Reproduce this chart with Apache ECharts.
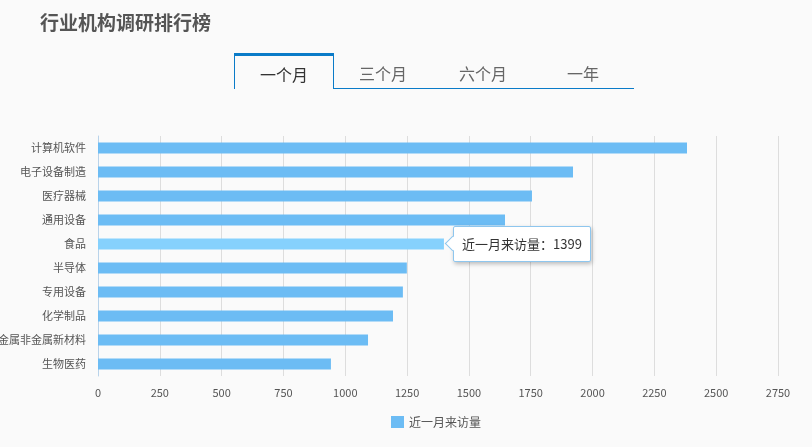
<!DOCTYPE html>
<html>
<head>
<meta charset="utf-8">
<script src="https://cdn.jsdelivr.net/npm/echarts@6/dist/echarts.min.js"></script>
<style>
    html, body {margin: 0; padding: 0; background: #fafafa;}
    #wrap {position: relative; width: 812px; height: 447px; font-family: "Noto Sans CJK SC", sans-serif;}
    #title {position: absolute; left: 40px; top: 8px; font-size: 19px; font-weight: bold; color: #555;}
    #tabs {position: absolute; left: 234px; top: 53px; width: 400px; height: 36px; border-bottom: 1px solid #0a7bc8; box-sizing: border-box;}
    .tab {position: absolute; top: 0; width: 100px; height: 36px; line-height: 40px; text-align: center; font-size: 16px; color: #666; box-sizing: border-box;}
    .tab.on {border: 1px solid #0a7bc8; border-top: 3px solid #0a7bc8; border-bottom: none; background: #fafafa; color: #333; line-height: 36px; height: 36px;}
    #chartmain {position: absolute; left: 0; top: 0; width: 812px; height: 447px;}
    .tip::before {content: ''; position: absolute; left: -7px; top: 50%; margin-top: -6px; width: 10px; height: 10px; background: #fff; border-left: 1px solid #8ec6ee; border-bottom: 1px solid #8ec6ee; transform: rotate(45deg);}
</style>
</head>
<body>
<div id="wrap">
    <div id="chartmain"></div>
    <div id="title">行业机构调研排行榜</div>
    <div id="tabs">
        <div class="tab on" style="left:0">一个月</div>
        <div class="tab" style="left:99px">三个月</div>
        <div class="tab" style="left:199px">六个月</div>
        <div class="tab" style="left:299px">一年</div>
    </div>
</div>
<script>
var categories = ['计算机软件', '电子设备制造', '医疗器械', '通用设备', '食品', '半导体', '专用设备', '化学制品', '金属非金属新材料', '生物医药'];
var visits = [2382, 1921, 1755, 1646, 1399, 1249, 1233, 1193, 1092, 942];
var seriesName = '近一月来访量';

//初始化echarts实例
var myChart = echarts.init(document.getElementById('chartmain'));
var option = {
    backgroundColor: '#fafafa',
    textStyle: {fontFamily: 'Noto Sans CJK SC'},
    tooltip: {
        trigger: 'item',
        className: 'tip',
        alwaysShowContent: true,
        position: function (point, params, dom, rect, size) {
            // 放在柱子末端右侧
            var p = myChart.convertToPixel({gridIndex: 0}, [params.value, params.dataIndex]);
            return [p[0] + 9, p[1] - size.contentSize[1] / 2];
        },
        formatter: '{a}：{c}',
        backgroundColor: '#fff',
        borderColor: '#8ec6ee',
        borderWidth: 1,
        padding: [7, 8],
        textStyle: {color: '#333', fontSize: 13},
        extraCssText: 'box-shadow: 1px 2px 4px rgba(0,0,0,0.25); border-radius: 2px;'
    },
    legend: {
        bottom: 14,
        left: 386,
        itemWidth: 13,
        itemHeight: 12,
        icon: 'rect',
        textStyle: {color: '#555', fontSize: 12},
        data: [seriesName]
    },
    grid: {left: 98, right: 34, top: 136, bottom: 71, outerBoundsMode: 'none'},
    xAxis: {
        type: 'value',
        min: 0,
        max: 2750,
        interval: 250,
        axisLine: {show: false},
        axisTick: {show: false},
        axisLabel: {color: '#555', fontSize: 11, margin: 11, formatter: function (v) { return String(v); }},
        splitLine: {lineStyle: {color: '#ddd'}}
    },
    yAxis: {
        type: 'category',
        inverse: true,
        data: categories,
        axisLine: {lineStyle: {color: '#b9d3ea'}},
        axisTick: {length: 8, lineStyle: {color: '#b9d3ea'}},
        axisLabel: {color: '#555', fontSize: 11, margin: 12}
    },
    series: [{
        name: seriesName,
        type: 'bar',
        barWidth: 11,
        itemStyle: {color: '#6cbcf4'},
        emphasis: {itemStyle: {color: '#86d1fd'}},
        data: visits
    }]
};
myChart.setOption(option);
myChart.dispatchAction({type: 'highlight', seriesIndex: 0, dataIndex: 4});
myChart.dispatchAction({type: 'showTip', seriesIndex: 0, dataIndex: 4});
</script>
</body>
</html>
